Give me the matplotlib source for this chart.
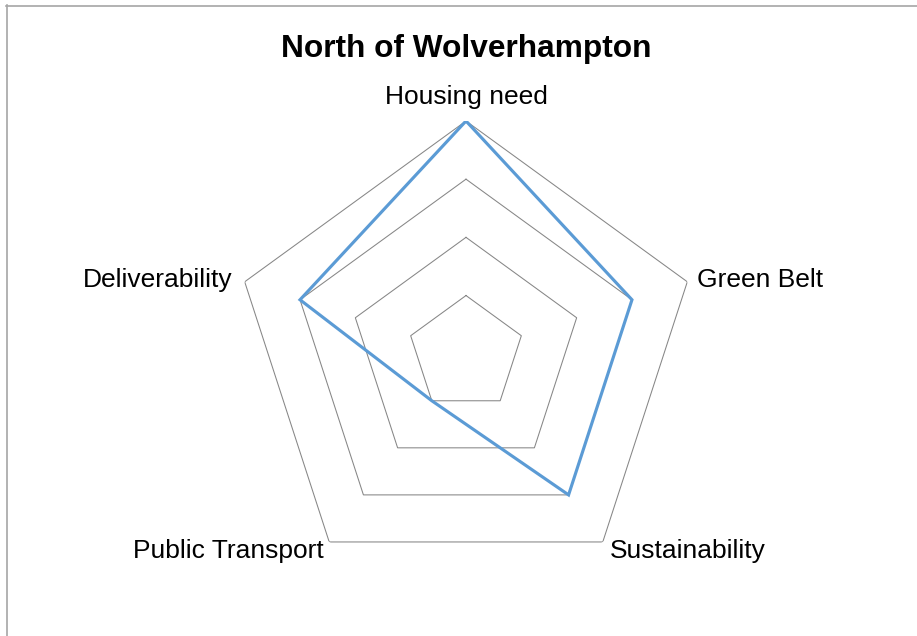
import numpy as np
import matplotlib
matplotlib.use("Agg")
import matplotlib.pyplot as plt
from matplotlib.lines import Line2D

plt.rcParams['font.family'] = ['Liberation Sans', 'DejaVu Sans']

# Scores for each assessment criterion
categories = ["Housing need", "Green Belt", "Sustainability", "Public Transport", "Deliverability"]
values = [4, 3, 3, 1, 3]
ring_levels = [1, 2, 3, 4]
title = "North of Wolverhampton"

W, H = 917, 636
fig = plt.figure(figsize=(W / 100, H / 100), dpi=100)
fig.patch.set_facecolor("white")

# Chart area frame (top and left edges)
fig.add_artist(Line2D([6 / W, 1.0], [1 - 5.5 / H, 1 - 5.5 / H], color="#a6a6a6", lw=1.2, transform=fig.transFigure))
fig.add_artist(Line2D([6.5 / W, 6.5 / W], [0, 1 - 5 / H], color="#a6a6a6", lw=1.2, transform=fig.transFigure))

cx, cy, R = 466.0, 353.7, 232.7
ax = fig.add_axes([(cx - R) / W, (H - cy - R) / H, 2 * R / W, 2 * R / H], projection="polar")
ax.set_theta_offset(np.pi / 2)
ax.set_theta_direction(-1)
ax.set_ylim(0, max(ring_levels))
ax.grid(False)
ax.set_xticks([])
ax.set_yticks([])
ax.spines["polar"].set_visible(False)
ax.patch.set_alpha(0)

n = len(categories)
theta = np.linspace(0, 2 * np.pi, n, endpoint=False)
theta_closed = np.append(theta, theta[0])

# Pentagonal grid rings
for lvl in ring_levels:
    ax.plot(theta_closed, [lvl] * (n + 1), color="#868686", lw=0.75, zorder=1)

# Data polygon
vals_closed = values + values[:1]
ax.plot(theta_closed, vals_closed, color="#5b9bd5", lw=2.25, zorder=3, solid_joinstyle="miter")

# Category labels placed just outside the outer ring (offsets in pixels)
offsets = [(0, 17, "center", "baseline"),
           (10, 2, "left", "center"),
           (7, -9, "left", "center"),
           (-5, -9, "right", "center"),
           (-12, 2, "right", "center")]
for t, lab, (dx, dy, ha, va) in zip(theta, categories, offsets):
    ax.annotate(lab, xy=(t, max(ring_levels)), xytext=(dx * 0.72, dy * 0.72),
                textcoords="offset points", ha=ha, va=va, fontsize=19, color="black",
                annotation_clip=False)

fig.text(466 / W, 1 - 57 / H, title, ha="center", va="baseline", fontsize=22.8,
         fontweight="bold", color="black")

fig.savefig("out.png", dpi=100, facecolor="white")
